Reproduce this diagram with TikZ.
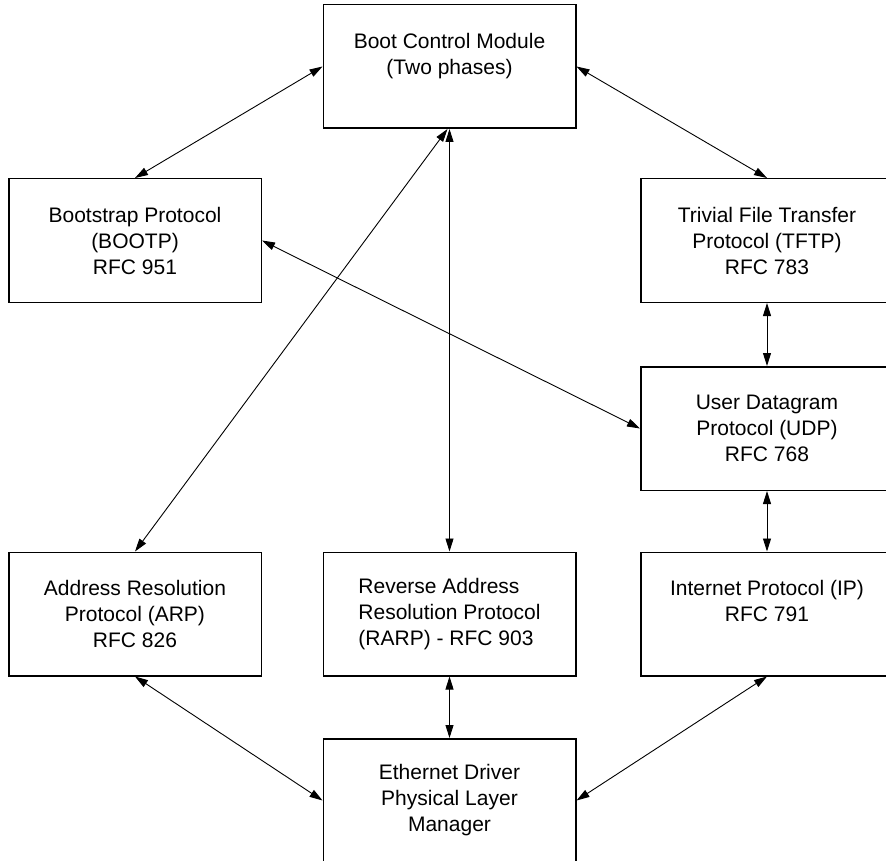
\documentclass[tikz,border=0pt]{standalone}
\usepackage{fontspec}
\setmainfont{Liberation Sans}
\usetikzlibrary{arrows.meta}
\begin{document}
\begin{tikzpicture}[x=1pt,y=-1pt,
  box/.style={draw, line width=1.5pt, minimum width=252.5pt, minimum height=123.5pt,
    inner sep=0pt, align=center, font=\fontsize{21}{26}\selectfont},
  link/.style={>={Triangle[length=13pt,width=8pt]}, <->, line width=0.9pt}]
\useasboundingbox (0,0) rectangle (886,861);
\node[box] (boot) at (449.5,66.5) {Boot Control Module\\(Two phases)\\~};
\node[box] (bootp) at (135,240.5) {Bootstrap Protocol\\(BOOTP)\\RFC 951};
\node[box] (tftp) at (767,240.5) {Trivial File Transfer\\Protocol (TFTP)\\RFC 783};
\node[box] (udp) at (767,428.5) {User Datagram\\Protocol (UDP)\\RFC 768};
\node[box] (arp) at (135,614) {Address Resolution\\Protocol (ARP)\\RFC 826};
\node[box, align=left] (rarp) at (449.5,614) {Reverse Address\\Resolution Protocol\\(RARP) - RFC 903};
\node[box] (ip) at (767,614) {Internet Protocol (IP)\\RFC 791\\~};
\node[box] (eth) at (449.5,800.5) {Ethernet Driver\\Physical Layer\\Manager};
\draw[link] (boot.west) -- (bootp.north);
\draw[link] (boot.east) -- (tftp.north);
\draw[link] ([xshift=-2pt]boot.south) -- (arp.north);
\draw[link] (boot.south) -- (rarp.north);
\draw[link] (bootp.east) -- (udp.west);
\draw[link] (tftp.south) -- (udp.north);
\draw[link] (udp.south) -- (ip.north);
\draw[link] (arp.south) -- (eth.west);
\draw[link] (rarp.south) -- (eth.north);
\draw[link] (ip.south) -- (eth.east);
\end{tikzpicture}
\end{document}
